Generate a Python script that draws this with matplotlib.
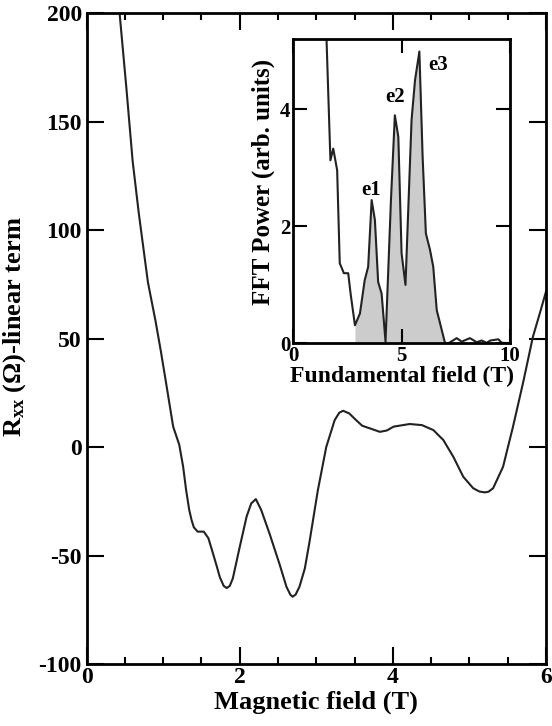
import numpy as np
import matplotlib.pyplot as plt

plt.rcParams['font.family'] = ['Liberation Serif', 'DejaVu Serif']
plt.rcParams['font.weight'] = 'bold'
plt.rcParams['axes.labelweight'] = 'bold'
plt.rcParams['axes.unicode_minus'] = False
plt.rcParams['mathtext.fontset'] = 'custom'
plt.rcParams['mathtext.rm'] = 'Liberation Serif:bold'
plt.rcParams['mathtext.it'] = 'Liberation Serif:bold'

# main curve: Rxx linear term vs magnetic field
field = [0.40, 0.43, 0.52, 0.60, 0.68, 0.74, 0.80, 0.85, 0.90, 0.97, 1.04, 1.13, 1.21, 1.26,
         1.30, 1.34, 1.37, 1.40, 1.45, 1.53, 1.59, 1.65, 1.70, 1.74, 1.79, 1.83, 1.87, 1.91,
         2.00, 2.09, 2.15, 2.21, 2.28, 2.39, 2.52, 2.61, 2.66, 2.69, 2.73, 2.78, 2.85, 2.91,
         3.02, 3.13, 3.24, 3.30, 3.35, 3.43, 3.52, 3.60, 3.70, 3.83, 3.92, 4.01, 4.22, 4.38,
         4.53, 4.66, 4.79, 4.92, 5.05, 5.13, 5.20, 5.25, 5.31, 5.44, 5.57, 5.70, 5.83, 5.92,
         6.00]
rxx = [212, 200, 165, 132, 108, 92, 76, 67, 58, 44, 29, 9.4, 1, -9,
       -20, -29, -33.6, -37, -39, -39, -42, -49, -55, -60, -64, -65, -64, -60.5,
       -46, -32, -26, -24, -29, -40, -54, -64.4, -68, -69, -68, -64.4, -56, -44,
       -20, 0, 12.4, 15.8, 16.7, 15.5, 12.4, 9.8, 8.6, 7.0, 7.6, 9.4, 10.6, 10.1,
       7.8, 3.2, -4.5, -13.7, -19, -20.5, -20.9, -20.6, -19, -9.1, 9.4, 29.4, 50.8, 61.6,
       71.5]

# inset: FFT power vs fundamental field
freq = [1.50, 1.54, 1.72, 1.85, 2.03, 2.15, 2.34, 2.54, 2.65, 2.85, 3.08, 3.30, 3.46,
        3.62, 3.77, 3.92, 4.08, 4.26, 4.51, 4.69, 4.85, 5.00, 5.18, 5.46, 5.62, 5.82,
        5.97, 6.12, 6.31, 6.46, 6.62, 7.00, 7.15, 7.54, 7.77, 8.15, 8.46, 8.69, 8.92,
        9.10, 9.46, 9.62, 10.0]
power = [5.6, 5.2, 3.13, 3.33, 2.96, 1.37, 1.2, 1.2, 0.85, 0.31, 0.51, 1.08, 1.31,
         2.45, 2.11, 1.05, 0.85, 0.03, 2.45, 3.9, 3.53, 1.54, 1.0, 3.82, 4.5, 4.99,
         3.19, 1.88, 1.6, 1.31, 0.57, 0.01, 0.0, 0.09, 0.03, 0.09, 0.02, 0.05, 0.01,
         0.05, 0.07, 0.01, 0.0]
peak_names = ["e1", "e2", "e3"]
peak_pos = [(3.6, 2.54), (4.7, 4.13), (6.7, 4.67)]

fig = plt.figure(figsize=(5.52, 7.26), dpi=100)
ax = fig.add_axes([0.157, 0.0854, 0.832, 0.8966])
ax.plot(field, rxx, color="#222222", lw=1.5)
ax.set_xlim(0, 6)
ax.set_ylim(-100, 200)
ax.set_xticks([0, 2, 4, 6])
ax.set_xticks(np.arange(0, 6.01, 0.5), minor=True)
ax.set_yticks(np.arange(-100, 201, 50))
ax.tick_params(which="both", direction="in", top=True, right=True, width=1.5, labelsize=17)
ax.tick_params(which="major", length=12)
ax.tick_params(which="minor", length=5)
ax.tick_params(axis="x", pad=2)
for s in ax.spines.values():
    s.set_linewidth(2)
ax.set_xlabel("Magnetic field (T)", fontsize=19, labelpad=2)
ax.set_ylabel(r"R$_{\mathrm{xx}}$ (Ω)-linear term", fontsize=19)
ax.yaxis.set_label_coords(-0.128, 0.518)

# inset
ins = fig.add_axes([0.531, 0.527, 0.393, 0.419])
fx = np.array(freq)
fy = np.array(power)
ins.fill_between(fx, fy, 0, where=(fx >= 2.85) & (fx <= 7.2), color="#cccccc", lw=0)
ins.plot(fx, fy, color="#222222", lw=1.5)
ins.set_xlim(0, 10)
ins.set_ylim(0, 5.2)
ins.set_xticks([0, 5, 10])
ins.set_yticks([0, 2, 4])
ins.tick_params(direction="in", top=True, right=True, length=10, width=1.5, labelsize=15, pad=2)
for s in ins.spines.values():
    s.set_linewidth(2)
ins.set_xlabel("Fundamental field (T)", fontsize=17, labelpad=0)
ins.set_ylabel("FFT Power (arb. units)", fontsize=18)
ins.yaxis.set_label_coords(-0.085, 0.53)
for name, (px, py) in zip(peak_names, peak_pos):
    ins.text(px, py, name, fontsize=15, ha="center", va="baseline")

fig.savefig("out.png", dpi=100)
